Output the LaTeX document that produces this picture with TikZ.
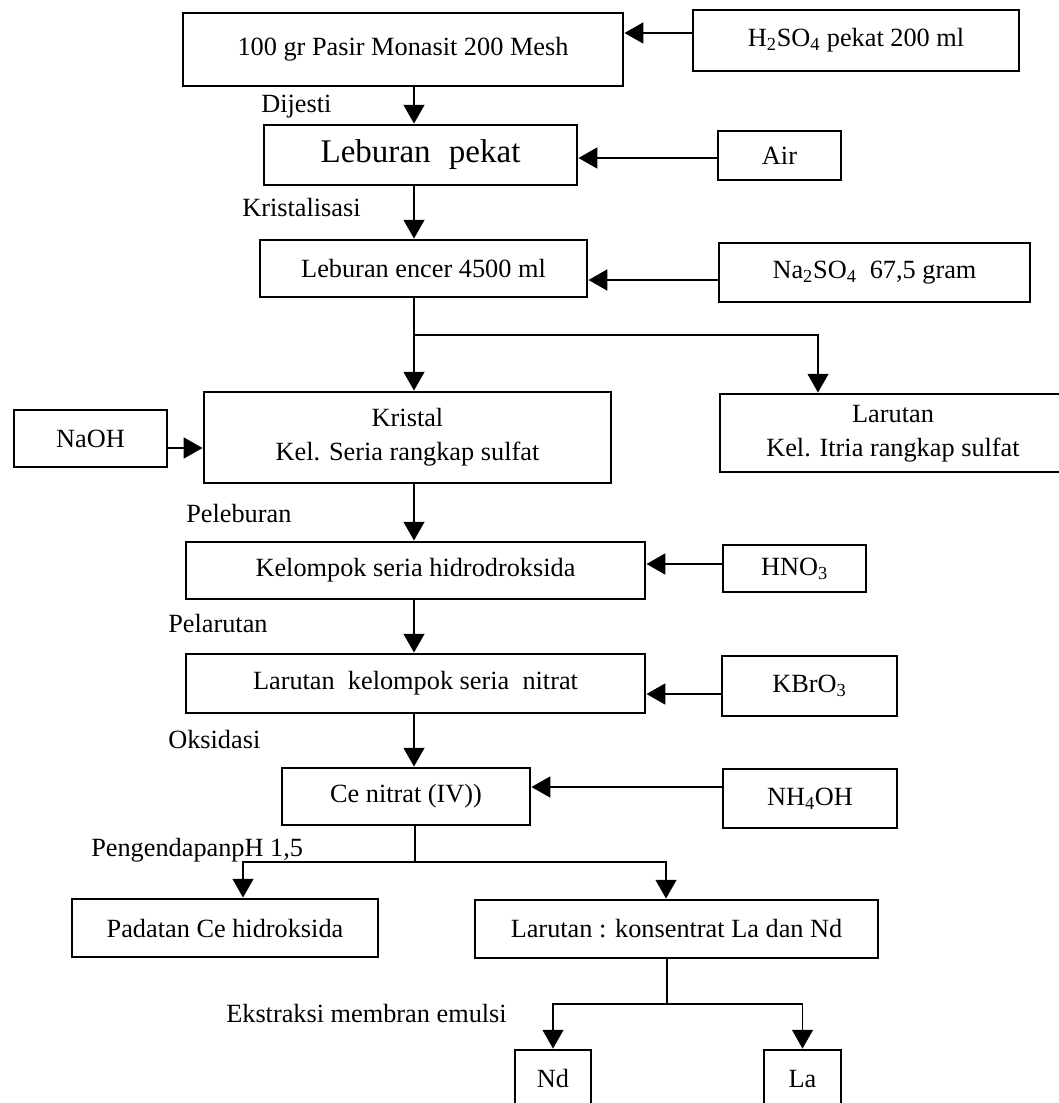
\documentclass[tikz,border=0pt]{standalone}
\usepackage{fontspec}
\setmainfont{Liberation Serif}
\usetikzlibrary{arrows.meta}
\begin{document}
\begin{tikzpicture}[x=0.025cm,y=-0.025cm,
  box/.style={draw,line width=2pt,rectangle,inner sep=0pt,align=center,font=\fontsize{18.7}{22}\selectfont},
  lbl/.style={inner sep=0pt,anchor=west,font=\fontsize{18.7}{22}\selectfont},
  arr/.style={line width=1.4pt,-{Triangle[length=0.47cm,width=0.52cm]}},
  ln/.style={line width=1.4pt}]
\useasboundingbox (0,0) rectangle (1058,1103);
\fill[white] (0,0) rectangle (1058,1103);
% boxes
\node[box,minimum width=11cm,minimum height=1.825cm] (b1) at (403,49.5) {\raisebox{0.16cm}{100 gr Pasir Monasit 200 Mesh}};
\node[box,minimum width=8.15cm,minimum height=1.525cm] (h2so4) at (856,40.5) {H\textsubscript{2}SO\textsubscript{4} pekat 200 ml};
\node[box,minimum width=7.825cm,minimum height=1.5cm,font=\fontsize{23.5}{26}\selectfont] (lp) at (420.5,155) {Leburan\hspace{0.55em}pekat};
\node[box,minimum width=3.075cm,minimum height=1.225cm] (air) at (779.5,155.5) {Air};
\node[box,minimum width=8.175cm,minimum height=1.425cm] (enc) at (423.5,268.5) {Leburan encer 4500 ml};
\node[box,minimum width=7.775cm,minimum height=1.475cm] (na) at (874.5,272.5) {Na\textsubscript{2}SO\textsubscript{4}\ \ 67,5 gram};
\node[box,minimum width=10.175cm,minimum height=2.275cm] (kri) at (407.5,437.5) {Kristal\\[2pt]Kel. Seria rangkap sulfat};
\node[box,minimum width=3.825cm,minimum height=1.425cm] (naoh) at (90.5,438.5) {NaOH};
\node[box,minimum width=8.65cm,minimum height=1.95cm] (lar) at (893,433) {\raisebox{-0.1cm}{\begin{tabular}{@{}c@{}}Larutan\\[2pt]Kel. Itria rangkap sulfat\end{tabular}}};
\node[box,minimum width=11.475cm,minimum height=1.425cm] (kel) at (415.5,570.5) {Kelompok seria hidrodroksida};
\node[box,minimum width=3.575cm,minimum height=1.175cm] (hno) at (794.5,568.5) {HNO\textsubscript{3}};
\node[box,minimum width=11.475cm,minimum height=1.475cm] (lks) at (415.5,683.5) {Larutan\ \ kelompok seria\ \ nitrat};
\node[box,minimum width=4.375cm,minimum height=1.5cm] (kbr) at (809.5,686) {KBrO\textsubscript{3}};
\node[box,minimum width=6.2cm,minimum height=1.425cm] (ce) at (406,796.5) {Ce nitrat (IV))};
\node[box,minimum width=4.35cm,minimum height=1.475cm] (nh) at (810,798.5) {NH\textsubscript{4}OH};
\node[box,minimum width=7.65cm,minimum height=1.45cm] (pad) at (225,928) {Padatan Ce hidroksida};
\node[box,minimum width=10.075cm,minimum height=1.45cm] (lk) at (676.5,929) {Larutan : konsentrat La dan Nd};
\node[box,minimum width=1.9cm,minimum height=1.5cm] (nd) at (553,1080) {\raisebox{0.08cm}{Nd}};
\node[box,minimum width=1.925cm,minimum height=1.5cm] (la) at (802.5,1080) {\raisebox{0.08cm}{La}};
% labels
\node[lbl] (dij) at (261,107) {Dijesti};
\node[lbl] (kris) at (242,208) {Kristalisasi};
\node[lbl] (pel) at (186,513) {Peleburan};
\node[lbl] (pelar) at (168,623) {Pelarutan};
\node[lbl] (oks) at (168,739) {Oksidasi};
\node[lbl] (peng) at (91,850) {PengendapanpH 1,5};
\node[lbl] (eks) at (226,1013) {Ekstraksi membran emulsi};
% connectors
\coordinate (c1) at (414,0);
\coordinate (j1) at (414,335);
\coordinate (j2) at (415,862);
\coordinate (j3) at (667,1004);
\draw[arr] (h2so4.west |- 0,33) -- (b1.east |- 0,33);
\draw[arr] (b1.south -| c1) -- (lp.north -| c1);
\draw[arr] (air.west |- 0,158) -- (lp.east |- 0,158);
\draw[arr] (lp.south -| c1) -- (enc.north -| c1);
\draw[arr] (na.west |- 0,280) -- (enc.east |- 0,280);
\draw[ln] (enc.south -| c1) -- (j1);
\draw[arr] (j1) -- (kri.north -| c1);
\draw[arr] (j1) -| (lar.north -| 818,0);
\draw[arr] (naoh.east |- 0,448) -- (kri.west |- 0,448);
\draw[arr] (kri.south -| c1) -- (kel.north -| c1);
\draw[arr] (hno.west |- 0,564) -- (kel.east |- 0,564);
\draw[arr] (kel.south -| c1) -- (lks.north -| c1);
\draw[arr] (kbr.west |- 0,694) -- (lks.east |- 0,694);
\draw[arr] (lks.south -| c1) -- (ce.north -| c1);
\draw[arr] (nh.west |- 0,787) -- (ce.east |- 0,787);
\draw[ln] (ce.south -| j2) -- (j2);
\draw[arr] (j2) -| (pad.north -| 243,0);
\draw[arr] (j2) -| (lk.north -| 666,0);
\draw[ln] (lk.south -| j3) -- (j3);
\draw[arr] (j3) -| (nd.north);
\draw[arr] (j3) -| (la.north);
\end{tikzpicture}
\end{document}
